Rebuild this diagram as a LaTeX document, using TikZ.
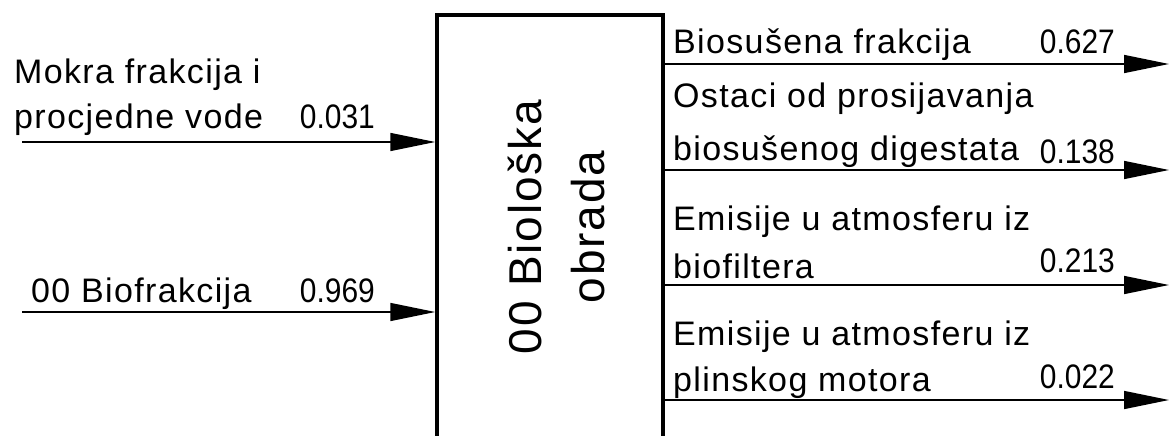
\documentclass[tikz,border=0pt]{standalone}
\usepackage{fontspec}
\setmainfont[LetterSpace=4]{Liberation Sans}
\newfontfamily\numfont{Liberation Sans}
\usepackage{tikz}
\usetikzlibrary{arrows.meta, positioning}

\begin{document}
\begin{tikzpicture}
  [
    x=1pt, y=-1pt,
    Block/.style={rectangle, draw=black, line width=3.5pt, minimum width=226pt, minimum height=436pt, inner sep=0pt},
    Title/.style={rotate=90, align=center, inner sep=0pt, font=\fontsize{46}{63}\selectfont},
    Txt/.style={anchor=base west, inner sep=0pt, font=\fontsize{34}{40}\selectfont},
    Num/.style={anchor=base east, inner sep=0pt, xscale=0.88, font=\numfont\fontsize{34}{40}\selectfont},
    Flow/.style={draw, line width=1.5pt, -{Triangle[length=45pt, width=18pt]}}
  ]
  \useasboundingbox (0, 0) rectangle (1169, 436);
  % Nodes
  \node[Block] (box) at(550, 233) {};
  \node[Title] (boxtext) at(556, 227) {00 Biološka\\obrada};
  \coordinate (in1) at(22, 142);
  \coordinate (in2) at(22, 312);
  \coordinate (out1) at(1169, 64);
  \coordinate (out2) at(1169, 170);
  \coordinate (out3) at(1169, 285);
  \coordinate (out4) at(1169, 400);
  % Labels
  \node[Txt] (in1a) at(14, 83) {Mokra frakcija i};
  \node[Txt] (in1b) at(14, 128) {procjedne vode};
  \node[Num] (in1n) at(375, 128) {0.031};
  \node[Txt] (in2a) at(31, 302) {00 Biofrakcija};
  \node[Num] (in2n) at(375, 302) {0.969};
  \node[Txt] (out1a) at(673, 53) {Biosušena frakcija};
  \node[Num] (out1n) at(1115, 53) {0.627};
  \node[Txt] (out2a) at(673, 107) {Ostaci od prosijavanja};
  \node[Txt] (out2b) at(673, 160) {biosušenog digestata};
  \node[Num] (out2n) at(1115, 163) {0.138};
  \node[Txt] (out3a) at(673, 230) {Emisije u atmosferu iz};
  \node[Txt] (out3b) at(673, 278) {biofiltera};
  \node[Num] (out3n) at(1115, 272) {0.213};
  \node[Txt] (out4a) at(673, 345) {Emisije u atmosferu iz};
  \node[Txt] (out4b) at(673, 391) {plinskog motora};
  \node[Num] (out4n) at(1115, 388) {0.022};
  % Lines
  \path [Flow] (in1) -- (box.west |- in1);
  \path [Flow] (in2) -- (box.west |- in2);
  \path [Flow] (box.east |- out1) -- (out1);
  \path [Flow] (box.east |- out2) -- (out2);
  \path [Flow] (box.east |- out3) -- (out3);
  \path [Flow] (box.east |- out4) -- (out4);
\end{tikzpicture}
\end{document}
